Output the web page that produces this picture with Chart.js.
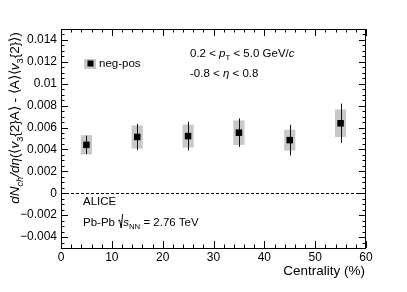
<!DOCTYPE html>
<html>
<head>
<meta charset="utf-8">
<script src="https://cdn.jsdelivr.net/npm/chart.js@4"></script>
<style>
  body { margin: 0; background: #fff; }
  canvas { display: block; }
</style>
</head>
<body>
<canvas id="aliceChart" width="407" height="292"></canvas>
<script>
const centrality = [5, 15, 25, 35, 45, 55];
const values = [0.00442, 0.00514, 0.00522, 0.00553, 0.00485, 0.00639];
const statErr = [0.00084, 0.0012, 0.0013, 0.0013, 0.0014, 0.0018];
const sysErr = [0.00088, 0.00105, 0.00105, 0.00112, 0.00095, 0.00126];

const xTicks = [0, 10, 20, 30, 40, 50, 60];
const yTicks = [-0.004, -0.002, 0, 0.002, 0.004, 0.006, 0.008, 0.01, 0.012, 0.014];
const yTickLabels = ['\u22120.004', '\u22120.002', '0', '0.002', '0.004', '0.006', '0.008', '0.01', '0.012', '0.014'];

const FONT = '"Liberation Sans", Arial, Helvetica, sans-serif';
const SYS_HALF = 1.1; // half width of systematic boxes in x units

// draw a string made of pieces (italic / subscript) starting at x
function richText(ctx, x, y, segs, size) {
  let cx = x;
  segs.forEach(s => {
    const sz = s.sub ? size * 0.68 : size;
    ctx.font = (s.it ? 'italic ' : '') + sz + 'px ' + FONT;
    const dy = s.sub ? size * 0.3 : 0;
    ctx.fillText(s.t, cx, y + dy);
    cx += ctx.measureText(s.t).width;
  });
  return cx - x;
}

function richWidth(ctx, segs, size) {
  let w = 0;
  segs.forEach(s => {
    const sz = s.sub ? size * 0.68 : size;
    ctx.font = (s.it ? 'italic ' : '') + sz + 'px ' + FONT;
    w += ctx.measureText(s.t).width;
  });
  return w;
}

const errorBars = {
  id: 'errorBars',
  beforeDatasetsDraw(chart) {
    const { ctx, scales: { x, y }, chartArea } = chart;
    ctx.save();
    // zero line
    ctx.strokeStyle = '#000';
    ctx.lineWidth = 1;
    ctx.setLineDash([3, 2]);
    const y0 = Math.round(y.getPixelForValue(0)) + 0.5;
    ctx.beginPath();
    ctx.moveTo(chartArea.left, y0);
    ctx.lineTo(chartArea.right, y0);
    ctx.stroke();
    ctx.setLineDash([]);
    // systematic boxes
    ctx.fillStyle = '#c8c8c8';
    centrality.forEach((c, i) => {
      const l = x.getPixelForValue(c - SYS_HALF);
      const r = x.getPixelForValue(c + SYS_HALF);
      const t = y.getPixelForValue(values[i] + sysErr[i]);
      const b = y.getPixelForValue(values[i] - sysErr[i]);
      ctx.fillRect(l, t, r - l, b - t);
    });
    // statistical bars
    ctx.strokeStyle = '#111';
    centrality.forEach((c, i) => {
      const px = Math.round(x.getPixelForValue(c)) + 0.5;
      ctx.beginPath();
      ctx.moveTo(px, y.getPixelForValue(values[i] + statErr[i]));
      ctx.lineTo(px, y.getPixelForValue(values[i] - statErr[i]));
      ctx.stroke();
    });
    ctx.restore();
  },
  afterDraw(chart) {
    const { ctx, scales: { x, y }, chartArea: a } = chart;
    ctx.save();
    ctx.strokeStyle = '#000';
    ctx.lineWidth = 1;
    ctx.strokeRect(Math.round(a.left) + 0.5, Math.round(a.top) + 0.5,
      Math.round(a.right - a.left) - 1, Math.round(a.bottom - a.top));

    // tick marks, inward on all sides
    ctx.beginPath();
    for (let v = -0.005; v <= 0.01501; v += 0.0005) {
      const major = Math.abs(Math.round(v / 0.002) * 0.002 - v) < 1e-7;
      const len = major ? 7 : 3.5;
      const py = Math.round(y.getPixelForValue(v)) + 0.5;
      ctx.moveTo(a.left, py); ctx.lineTo(a.left + len, py);
      ctx.moveTo(a.right, py); ctx.lineTo(a.right - len, py);
    }
    for (let v = 0; v <= 60; v += 2) {
      const len = v % 10 === 0 ? 7 : 3.5;
      const px = Math.round(x.getPixelForValue(v)) + 0.5;
      ctx.moveTo(px, a.bottom); ctx.lineTo(px, a.bottom - len);
      ctx.moveTo(px, a.top); ctx.lineTo(px, a.top + len);
    }
    ctx.stroke();

    // tick labels
    ctx.fillStyle = '#000';
    ctx.font = '12px ' + FONT;
    ctx.textAlign = 'right';
    ctx.textBaseline = 'middle';
    yTicks.forEach((v, i) => ctx.fillText(yTickLabels[i], 57, y.getPixelForValue(v)));
    ctx.textAlign = 'center';
    xTicks.forEach(v => ctx.fillText(String(v), x.getPixelForValue(v), 258));

    // x title
    ctx.textAlign = 'right';
    ctx.font = '13.5px ' + FONT;
    ctx.fillText('Centrality (%)', 365, 271);

    // y title, rotated
    const ySegs = [
      { t: 'dN', it: true }, { t: 'ch', it: true, sub: true }, { t: '/d' , it: true}, { t: '\u03B7', it: true },
      { t: '(\u27E8' }, { t: 'v', it: true }, { t: '3', sub: true }, { t: '{2}A\u27E9 - \u27E8A\u27E9\u27E8' },
      { t: 'v', it: true }, { t: '3', sub: true }, { t: '{2}\u27E9)' }
    ];
    ctx.save();
    ctx.translate(19, 118);
    ctx.rotate(-Math.PI / 2);
    ctx.textAlign = 'left';
    ctx.textBaseline = 'alphabetic';
    const tw = richWidth(ctx, ySegs, 13.5);
    richText(ctx, -tw / 2, 0, ySegs, 13.5);
    ctx.restore();

    // annotations
    ctx.textAlign = 'left';
    ctx.textBaseline = 'alphabetic';
    richText(ctx, 190, 57, [{ t: '0.2 < ' }, { t: 'p', it: true }, { t: 'T', sub: true },
      { t: ' < 5.0 GeV/' }, { t: 'c', it: true }], 11.5);
    richText(ctx, 190, 77, [{ t: '-0.8 < ' }, { t: '\u03B7', it: true }, { t: ' < 0.8' }], 11.5);
    richText(ctx, 83, 205, [{ t: 'ALICE' }], 11.5);
    const w1 = richText(ctx, 83, 226, [{ t: 'Pb-Pb ' }], 11.5);
    // radical sign
    const rx = 83 + w1;
    ctx.beginPath();
    ctx.moveTo(rx, 221); ctx.lineTo(rx + 1.5, 220);
    ctx.lineTo(rx + 3, 228); ctx.lineTo(rx + 4.5, 214);
    ctx.stroke();
    richText(ctx, rx + 5, 226, [{ t: 's', it: true }, { t: 'NN', sub: true }, { t: ' = 2.76 TeV' }], 11.5);

    // legend
    ctx.fillStyle = '#c8c8c8';
    ctx.fillRect(84, 59, 12, 10);
    ctx.fillStyle = '#000';
    ctx.fillRect(87.5, 60.5, 6, 6);
    richText(ctx, 99, 67, [{ t: 'neg-pos' }], 11.5);
    ctx.restore();
  }
};

const ctx = document.getElementById('aliceChart').getContext('2d');
const aliceChart = new Chart(ctx, {
  type: 'scatter',
  data: {
    datasets: [{
      label: 'neg-pos',
      data: centrality.map((c, i) => ({ x: c, y: values[i] })),
      pointStyle: 'rect',
      pointRadius: 4.6,
      backgroundColor: '#000',
      borderWidth: 0
    }]
  },
  options: {
    responsive: false,
    animation: false,
    layout: { padding: { left: 61, right: 41, top: 29, bottom: 44 } },
    scales: {
      x: { type: 'linear', min: 0, max: 60, display: false },
      y: { type: 'linear', min: -0.005, max: 0.015, display: false }
    },
    plugins: {
      legend: { display: false },
      tooltip: { enabled: false }
    }
  },
  plugins: [errorBars]
});
</script>
</body>
</html>
